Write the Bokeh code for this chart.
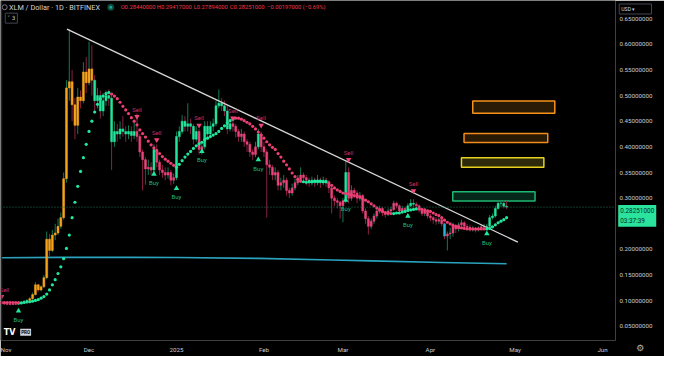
import numpy as np
import pandas as pd
from bokeh.plotting import figure
from bokeh.models import Range1d, FixedTicker, PrintfTickFormatter, Span, Label, ColumnDataSource
from bokeh.embed import file_html
from bokeh.resources import INLINE
from bokeh.core.properties import value

# ---------------- data ----------------
dates = pd.date_range("2024-10-31", "2025-04-28", freq="D")

opens = [0.0950, 0.0945, 0.0935, 0.0930, 0.0925, 0.0935, 0.0930, 0.0955, 0.0975, 0.0990,
         0.1005, 0.1040, 0.1120, 0.1310, 0.1210, 0.1270, 0.1450, 0.2200, 0.1980, 0.2280,
         0.2320, 0.2450, 0.2620, 0.3380, 0.5150, 0.5270, 0.4820, 0.4420, 0.4970, 0.4900,
         0.5460, 0.5250, 0.5520, 0.5300, 0.4900, 0.5000, 0.4700, 0.4900, 0.5000, 0.4950,
         0.4100, 0.4300, 0.4250, 0.4350, 0.4300, 0.4250, 0.4300, 0.4220, 0.4300, 0.4200,
         0.3900, 0.3750, 0.3570, 0.3600, 0.3550, 0.3950, 0.3700, 0.3550, 0.3500, 0.3450,
         0.3500, 0.3350, 0.3400, 0.4200, 0.4300, 0.4500, 0.4400, 0.4450, 0.4400, 0.4150,
         0.4300, 0.3950, 0.4000, 0.4400, 0.4250, 0.4400, 0.4450, 0.4800, 0.4850, 0.4800,
         0.4700, 0.4350, 0.4450, 0.4400, 0.4300, 0.4200, 0.4250, 0.4100, 0.4050, 0.3900,
         0.3850, 0.4000, 0.4250, 0.4000, 0.3900, 0.3650, 0.3600, 0.3450, 0.3500, 0.3250,
         0.3300, 0.3350, 0.3150, 0.3100, 0.3200, 0.3300, 0.3350, 0.3450, 0.3400, 0.3350,
         0.3300, 0.3350, 0.3300, 0.3350, 0.3300, 0.3350, 0.3300, 0.3200, 0.3000, 0.2950,
         0.2920, 0.2850, 0.2950, 0.3500, 0.3000, 0.3150, 0.3100, 0.3000, 0.3050, 0.2750,
         0.2600, 0.2450, 0.2550, 0.2650, 0.2750, 0.2800, 0.2720, 0.2680, 0.2750, 0.2780,
         0.2900, 0.2850, 0.2750, 0.2800, 0.2780, 0.2850, 0.2900, 0.2880, 0.2850, 0.2780,
         0.2700, 0.2750, 0.2650, 0.2620, 0.2580, 0.2550, 0.2580, 0.2500, 0.2260, 0.2300,
         0.2320, 0.2450, 0.2400, 0.2480, 0.2520, 0.2450, 0.2430, 0.2400, 0.2400, 0.2380,
         0.2400, 0.2440, 0.2450, 0.2450, 0.2620, 0.2650, 0.2800, 0.2900, 0.2900, 0.2844]

highs = [0.0965, 0.0955, 0.0950, 0.0945, 0.0950, 0.0950, 0.0970, 0.0990, 0.1010, 0.1030,
         0.1070, 0.1160, 0.1360, 0.1330, 0.1300, 0.1500, 0.2350, 0.2300, 0.2380, 0.2500,
         0.2600, 0.2720, 0.3500, 0.5300, 0.6295, 0.5500, 0.4950, 0.5150, 0.5100, 0.5650,
         0.5750, 0.6050, 0.5980, 0.5400, 0.5150, 0.5100, 0.5050, 0.5100, 0.5120, 0.5000,
         0.4500, 0.4450, 0.4500, 0.4600, 0.4400, 0.4420, 0.4400, 0.4500, 0.4650, 0.4250,
         0.3950, 0.3800, 0.3750, 0.3700, 0.4050, 0.4050, 0.3750, 0.3650, 0.3600, 0.3600,
         0.3550, 0.3480, 0.4300, 0.4400, 0.4620, 0.4600, 0.4850, 0.4550, 0.4450, 0.4400,
         0.4350, 0.4100, 0.4500, 0.4500, 0.4500, 0.4550, 0.4900, 0.5120, 0.4950, 0.4900,
         0.4800, 0.4550, 0.4520, 0.4450, 0.4350, 0.4350, 0.4300, 0.4150, 0.4100, 0.3950,
         0.4100, 0.4350, 0.4300, 0.4100, 0.3950, 0.3750, 0.3650, 0.3600, 0.3550, 0.3400,
         0.3450, 0.3400, 0.3200, 0.3280, 0.3380, 0.3450, 0.3600, 0.3500, 0.3450, 0.3400,
         0.3420, 0.3400, 0.3450, 0.3400, 0.3420, 0.3400, 0.3350, 0.3250, 0.3050, 0.3000,
         0.2950, 0.3000, 0.3720, 0.3600, 0.3250, 0.3200, 0.3150, 0.3120, 0.3080, 0.2800,
         0.2650, 0.2600, 0.2700, 0.2800, 0.2850, 0.2830, 0.2750, 0.2800, 0.2830, 0.2950,
         0.2930, 0.2880, 0.2850, 0.2830, 0.2900, 0.2980, 0.2980, 0.2920, 0.2880, 0.2800,
         0.2800, 0.2780, 0.2700, 0.2650, 0.2630, 0.2620, 0.2600, 0.2520, 0.2350, 0.2420,
         0.2520, 0.2500, 0.2530, 0.2580, 0.2550, 0.2500, 0.2480, 0.2450, 0.2430, 0.2450,
         0.2480, 0.2500, 0.2500, 0.2670, 0.2700, 0.2850, 0.2950, 0.2950, 0.2950, 0.29417]

lows = [0.0930, 0.0920, 0.0915, 0.0910, 0.0915, 0.0915, 0.0920, 0.0945, 0.0965, 0.0980,
        0.0995, 0.1025, 0.1100, 0.1170, 0.1180, 0.1250, 0.1420, 0.1850, 0.1950, 0.2180,
        0.2280, 0.2400, 0.2580, 0.3300, 0.4900, 0.4500, 0.4150, 0.4250, 0.4750, 0.4850,
        0.5050, 0.5200, 0.5000, 0.4650, 0.4750, 0.4550, 0.4600, 0.4800, 0.4800, 0.3550,
        0.4000, 0.4100, 0.4150, 0.4200, 0.4100, 0.4150, 0.4100, 0.4150, 0.4100, 0.3800,
        0.3150, 0.3260, 0.3450, 0.3450, 0.3500, 0.3600, 0.3450, 0.3400, 0.3350, 0.3380,
        0.3250, 0.3280, 0.3350, 0.4100, 0.4250, 0.4300, 0.4300, 0.4250, 0.4050, 0.4100,
        0.3850, 0.3850, 0.3950, 0.4150, 0.4200, 0.4300, 0.4400, 0.4750, 0.4700, 0.4600,
        0.4250, 0.4300, 0.4300, 0.4180, 0.4100, 0.4100, 0.4000, 0.3900, 0.3800, 0.3750,
        0.3800, 0.3950, 0.3900, 0.3800, 0.2620, 0.3450, 0.3350, 0.3350, 0.3150, 0.3150,
        0.3200, 0.3050, 0.3000, 0.3050, 0.3150, 0.3250, 0.3300, 0.3300, 0.3250, 0.3220,
        0.3250, 0.3220, 0.3250, 0.3200, 0.3250, 0.3220, 0.3100, 0.2700, 0.2850, 0.2800,
        0.2600, 0.2530, 0.2900, 0.2900, 0.2950, 0.3000, 0.2900, 0.2950, 0.2700, 0.2500,
        0.2290, 0.2400, 0.2500, 0.2600, 0.2700, 0.2650, 0.2620, 0.2650, 0.2700, 0.2750,
        0.2800, 0.2700, 0.2700, 0.2720, 0.2750, 0.2820, 0.2820, 0.2780, 0.2720, 0.2650,
        0.2650, 0.2600, 0.2550, 0.2500, 0.2480, 0.2500, 0.2450, 0.2200, 0.1980, 0.2200,
        0.2250, 0.2320, 0.2350, 0.2420, 0.2400, 0.2380, 0.2350, 0.2350, 0.2330, 0.2350,
        0.2380, 0.2400, 0.2400, 0.2420, 0.2580, 0.2620, 0.2780, 0.2830, 0.2800, 0.27894]

closes = [0.0945, 0.0935, 0.0930, 0.0925, 0.0935, 0.0930, 0.0955, 0.0975, 0.0990, 0.1005,
          0.1040, 0.1120, 0.1310, 0.1210, 0.1270, 0.1450, 0.2200, 0.1980, 0.2280, 0.2320,
          0.2450, 0.2620, 0.3380, 0.5150, 0.5270, 0.4820, 0.4420, 0.4970, 0.4900, 0.5460,
          0.5250, 0.5520, 0.5300, 0.4900, 0.5000, 0.4700, 0.4900, 0.5000, 0.4950, 0.4100,
          0.4300, 0.4250, 0.4350, 0.4300, 0.4250, 0.4300, 0.4220, 0.4300, 0.4200, 0.3900,
          0.3750, 0.3570, 0.3600, 0.3550, 0.3950, 0.3700, 0.3550, 0.3500, 0.3450, 0.3500,
          0.3350, 0.3400, 0.4200, 0.4300, 0.4500, 0.4400, 0.4450, 0.4400, 0.4150, 0.4300,
          0.3950, 0.4000, 0.4400, 0.4250, 0.4400, 0.4450, 0.4800, 0.4850, 0.4800, 0.4700,
          0.4350, 0.4450, 0.4400, 0.4300, 0.4200, 0.4250, 0.4100, 0.4050, 0.3900, 0.3850,
          0.4000, 0.4250, 0.4000, 0.3900, 0.3650, 0.3600, 0.3450, 0.3500, 0.3250, 0.3300,
          0.3350, 0.3150, 0.3100, 0.3200, 0.3300, 0.3350, 0.3450, 0.3400, 0.3350, 0.3300,
          0.3350, 0.3300, 0.3350, 0.3300, 0.3350, 0.3300, 0.3200, 0.3000, 0.2950, 0.2920,
          0.2850, 0.2950, 0.3500, 0.3000, 0.3150, 0.3100, 0.3000, 0.3050, 0.2750, 0.2600,
          0.2450, 0.2550, 0.2650, 0.2750, 0.2800, 0.2720, 0.2680, 0.2750, 0.2780, 0.2900,
          0.2850, 0.2750, 0.2800, 0.2780, 0.2850, 0.2900, 0.2880, 0.2850, 0.2780, 0.2700,
          0.2750, 0.2650, 0.2620, 0.2580, 0.2550, 0.2580, 0.2500, 0.2260, 0.2300, 0.2320,
          0.2450, 0.2400, 0.2480, 0.2520, 0.2450, 0.2430, 0.2400, 0.2400, 0.2380, 0.2400,
          0.2440, 0.2450, 0.2450, 0.2620, 0.2650, 0.2800, 0.2900, 0.2900, 0.2844, 0.28251]

# candle colouring state per day: p=bearish trend, g=bullish trend, o=strong, c=cyan bar
candle_state = ("ppppppgggg" "oooooooooo" "oooooooooo" "oooggggggg" "ggggggggpp"
                "ppppgppppp" "ppgggggggg" "ppgggggggg" "ggpppppppp" "pgpppppppp"
                "pppppppppg" "ggggggpppp" "ppgppppppp" "pppppppppp" "ppppgggppp"
                "pppppppcpp" "pppppppppp" "ppgggggggg")

# trailing-stop dots
stop_dots = [0.0965, 0.0965, 0.0965, 0.0965, 0.0965, 0.0965, 0.0965, 0.0955, 0.0965, 0.0975,
             0.0980, 0.0990, 0.1005, 0.1020, 0.1050, 0.1080, 0.1130, 0.1210, 0.1310, 0.1410,
             0.1530, 0.1660, 0.1820, 0.2020, 0.2280, 0.2620, 0.2920, 0.3230, 0.3520, 0.3790,
             0.4050, 0.4300, 0.4500, 0.4680, 0.4830, 0.4940, 0.4990, 0.5040, 0.5060, 0.5030,
             0.4990, 0.4940, 0.4870, 0.4790, 0.4720, 0.4650, 0.4570, 0.4500, 0.4430, 0.4330,
             0.4260, 0.4190, 0.4110, 0.4040, 0.3980, 0.3920, 0.3870, 0.3810, 0.3760, 0.3720,
             0.3680, 0.3640, 0.3600, 0.3660, 0.3730, 0.3800, 0.3860, 0.3910, 0.3970, 0.4020,
             0.4060, 0.4090, 0.4140, 0.4170, 0.4200, 0.4230, 0.4260, 0.4300, 0.4360, 0.4410,
             0.4470, 0.4510, 0.4540, 0.4560, 0.4560, 0.4540, 0.4510, 0.4480, 0.4450, 0.4400,
             0.4350, 0.4290, 0.4230, 0.4170, 0.4100, 0.4040, 0.3990, 0.3950, 0.3870, 0.3800,
             0.3720, 0.3650, 0.3570, 0.3490, 0.3420, 0.3370, 0.3330, 0.3320, 0.3310, 0.3320,
             0.3320, 0.3330, 0.3330, 0.3330, 0.3320, 0.3320, 0.3300, 0.3250, 0.3200, 0.3160,
             0.3130, 0.3100, 0.3090, 0.3080, 0.3070, 0.3050, 0.3040, 0.3020, 0.2990, 0.2960,
             0.2930, 0.2890, 0.2850, 0.2810, 0.2770, 0.2740, 0.2720, 0.2710, 0.2700, 0.2700,
             0.2710, 0.2710, 0.2730, 0.2740, 0.2760, 0.2770, 0.2780, 0.2790, 0.2790, 0.2780,
             0.2770, 0.2750, 0.2740, 0.2710, 0.2680, 0.2660, 0.2620, 0.2570, 0.2530, 0.2500,
             0.2470, 0.2450, 0.2430, 0.2420, 0.2410, 0.2400, 0.2400, 0.2400, 0.2400, 0.2400,
             0.2400, 0.2400, 0.2400, 0.2410, 0.2440, 0.2480, 0.2520, 0.2550, 0.2580, 0.2620]
dot_state = ("pppppppggg" "gggggggggg" "gggggggggg" "gggggggggp" "pppppppppp"
             "pppppppppp" "ppgggggggg" "gggggggggg" "gggppppppp" "pppppppppp"
             "pppppppggg" "ggggggpppp" "pppppppppp" "pppppppppg" "ggggggggpp"
             "pppppppppp" "pppppppppp" "ppgggggggg")

sell_dates = ["2024-10-31", "2024-12-18", "2024-12-25", "2025-01-09", "2025-01-21",
              "2025-01-31", "2025-03-03", "2025-03-26"]
sell_prices = [0.108, 0.459, 0.4135, 0.442, 0.456, 0.442, 0.375, 0.314]
buy_dates = ["2024-11-06", "2024-12-24", "2025-01-01", "2025-01-10", "2025-01-30",
             "2025-03-02", "2025-03-24", "2025-04-21"]
buy_prices = [0.080, 0.347, 0.319, 0.391, 0.375, 0.296, 0.265, 0.2305]

ma_dates = ["2024-10-31", "2024-11-21", "2024-12-16", "2025-01-01", "2025-01-30",
            "2025-02-25", "2025-03-11", "2025-04-05", "2025-04-28"]
ma_values = [0.1839, 0.1845, 0.1848, 0.1842, 0.1825, 0.1794, 0.1776, 0.1745, 0.1720]

trend_dates = ["2024-11-23 04:00", "2025-05-02 00:00"]
trend_prices = [0.6295, 0.2143]

box_left = ["2025-04-16 00:00", "2025-04-12 22:00", "2025-04-12 00:00", "2025-04-08 22:00"]
box_right = ["2025-05-15 02:00", "2025-05-12 14:00", "2025-05-11 05:00", "2025-05-08 02:00"]
box_top = [0.4893, 0.4260, 0.3787, 0.3124]
box_bottom = [0.4656, 0.4085, 0.3601, 0.2943]
box_line = ["#f7931a", "#f08c1c", "#e8d21e", "#1fb872"]
box_fill = ["#2a1b07", "#281905", "#2e2b0d", "#06281a"]

last_price = 0.28251
price_ticks = [0.05, 0.10, 0.15, 0.20, 0.25, 0.30, 0.35, 0.40, 0.45, 0.50, 0.55, 0.60, 0.65]
month_dates = ["2024-11-01", "2024-12-01", "2025-01-01", "2025-02-01", "2025-03-01",
               "2025-04-01", "2025-05-01", "2025-06-01"]
month_labels = ["Nov", "Dec", "2025", "Feb", "Mar", "Apr", "May", "Jun"]

# ---------------- helpers ----------------
BASE = pd.Timestamp("2024-11-01")


def day(s):
    t = pd.DatetimeIndex([pd.Timestamp(v) for v in s])
    return np.asarray((t - BASE) / pd.Timedelta(days=1), dtype=float)


BODY = {"g": "#22e69c", "p": "#e8447a", "o": "#f6a31c", "c": "#1fb7d9"}
DOT = {"g": "#22e69c", "p": "#ea3f72"}
FONT = "Roboto"
X0, X1, Y0, Y1 = -1.38, 216.6, 0.0224, 0.6854

x = day(dates)
o = np.array(opens); h = np.array(highs); l = np.array(lows); c = np.array(closes)
src = ColumnDataSource(dict(
    x=x, high=h, low=l,
    top=np.maximum(o, c), bottom=np.minimum(o, c),
    body=[BODY[s] for s in candle_state],
    wick=["#137a52" if cc >= oo else "#8a2146" for oo, cc in zip(opens, closes)],
    dot=stop_dots, dotc=[DOT[s] for s in dot_state],
))

p = figure(width=664, height=356, x_range=Range1d(X0, X1), y_range=Range1d(Y0, Y1),
           output_backend="svg", toolbar_location=None, y_axis_location="right",
           background_fill_color="#000000", border_fill_color="#000000", outline_line_color=None,
           min_border_left=0, min_border_top=0, min_border_right=49, min_border_bottom=15)
p.grid.visible = False

ya = p.yaxis[0]
ya.ticker = FixedTicker(ticks=price_ticks)
ya.formatter = PrintfTickFormatter(format="%.8f")
xa = p.xaxis[0]
mx = [int(round(v)) for v in day(month_dates)]
xa.ticker = FixedTicker(ticks=mx)
xa.major_label_overrides = {k: lab for k, lab in zip(mx, month_labels)}
for ax in (ya, xa):
    ax.axis_line_color = None
    ax.major_tick_line_color = None
    ax.minor_tick_line_color = None
    ax.major_tick_out = 0
    ax.major_tick_in = 0
    ax.minor_tick_out = 0
    ax.minor_tick_in = 0
    ax.major_label_text_color = "#c9ccd3"
    ax.major_label_text_font = FONT
    ax.major_label_text_font_size = "6.2px"
ya.major_label_standoff = 4
xa.major_label_standoff = 5

# boxes
p.quad(left=day(box_left), right=day(box_right), top=box_top, bottom=box_bottom,
       fill_color=box_fill, line_color=box_line, line_width=1.5)

# long moving average
p.line(day(ma_dates), ma_values, line_color="#2aa3bf", line_width=1.6)

# last price line
p.add_layout(Span(location=last_price, dimension="width", line_color="#1f7a52",
                  line_dash="1 2", line_width=1))
p.add_layout(Span(location=-0.95, dimension="height", line_color="#2a2e39", line_width=1))

# candles
p.segment(x0="x", y0="low", x1="x", y1="high", line_color="wick", line_width=1, source=src)
p.vbar(x="x", width=0.7, top="top", bottom="bottom", fill_color="body", line_color="body",
       line_width=0.5, source=src)

# trend line
p.line(day(trend_dates), trend_prices, line_color="#d9d9d9", line_width=1.3)

# stop dots
p.scatter(x="x", y="dot", size=3.2, fill_color="dotc", line_color=None, source=src)

# signals
sx = day(sell_dates); bx = day(buy_dates)
p.scatter(sx, sell_prices, marker="inverted_triangle", size=5.5, fill_color="#f0457a", line_color=None)
p.scatter(bx, buy_prices, marker="triangle", size=5.5, fill_color="#22e69c", line_color=None)
p.text(sx[1:], sell_prices[1:], text=["Sell"] * (len(sx) - 1), text_font=value(FONT),
       text_font_size=value("6px"), text_color="#d02c60", text_align="center",
       text_baseline="bottom", y_offset=-4)
p.text(sx[:1], sell_prices[:1], text=["Sell"], text_font=value(FONT),
       text_font_size=value("6px"), text_color="#d02c60", text_align="left",
       text_baseline="bottom", y_offset=-4, x_offset=-2)
p.text(bx, buy_prices, text=["Buy"] * len(bx), text_font=value(FONT), text_font_size=value("6px"),
       text_color="#1fbf80", text_align="center", text_baseline="top", y_offset=5)

# header
p.scatter([0.1], [0.6723], size=5, fill_color=None, line_color="#787b86", line_width=1)
p.add_layout(Label(x=1.6, y=0.6723, text="XLM / Dollar · 1D · BITFINEX", text_font=FONT,
                   text_font_size="7.3px", text_color="#d1d4dc", text_baseline="middle"))
p.scatter([37.7], [0.6723], size=5, fill_color="#22ab94", line_color="#0c4a3e", line_width=2)
ohlc_x = [41.2, 54.0, 67.1, 79.9, 93.1]
ohlc_t = ["O0.28440000", "H0.29417000", "L0.27894000", "C0.28251000", "\u22120.00197000 (\u22120.69%)"]
for xx, tt in zip(ohlc_x, ohlc_t):
    p.add_layout(Label(x=xx, y=0.6723, text=tt, text_font=FONT, text_font_size="5.8px",
                       text_color="#f23645", text_baseline="middle"))
p.add_layout(Label(x=0.3, y=0.651, text="\u02c5 3", text_font="DejaVu Sans", text_font_size="5.6px",
                   text_color="#d1d4dc", text_baseline="middle", border_line_color="#434651",
                   background_fill_color="#000000", padding=2))

# TV logo
p.add_layout(Label(x=-0.2, y=0.0383, text="TV", text_font="DejaVu Sans", text_font_style="bold",
                   text_font_size="8px", text_color="#ffffff", text_baseline="middle"))
p.add_layout(Label(x=5.6, y=0.0383, text="PRO", text_font=FONT, text_font_style="bold",
                   text_font_size="4.5px", text_color="#000000", text_baseline="middle",
                   background_fill_color="#d1d4dc", padding=1))

# price-axis extras: anchored just inside the frame edge, pushed out by pixel offsets,
# drawn at overlay level so they can sit in the axis column
ax_edge = X1 - 0.1
p.text([ax_edge], [last_price], text=["0.28251000\n03:37:39"], text_font=value(FONT),
       text_font_size=value("6.4px"), text_color="#06301f", text_align="left",
       text_baseline="top", x_offset=3, y_offset=-2, background_fill_color="#2ae39c", padding=2,
       level="overlay")
p.text([ax_edge], [Y1 - 0.001], text=["USD            \u25be"], text_font=value(FONT),
       text_font_size=value("5.2px"), text_color="#d1d4dc", text_align="left",
       text_baseline="top", x_offset=4, y_offset=3, background_fill_color="#000000",
       border_line_color="#434651", padding=2, level="overlay")
p.text([ax_edge], [Y0 + 0.001], text=["\u2699"], text_font=value("DejaVu Sans"),
       text_font_size=value("9px"), text_color="#b2b5be", text_align="center",
       text_baseline="middle", x_offset=25, y_offset=8, level="overlay")

open("out.html", "w").write(file_html(p, INLINE))
